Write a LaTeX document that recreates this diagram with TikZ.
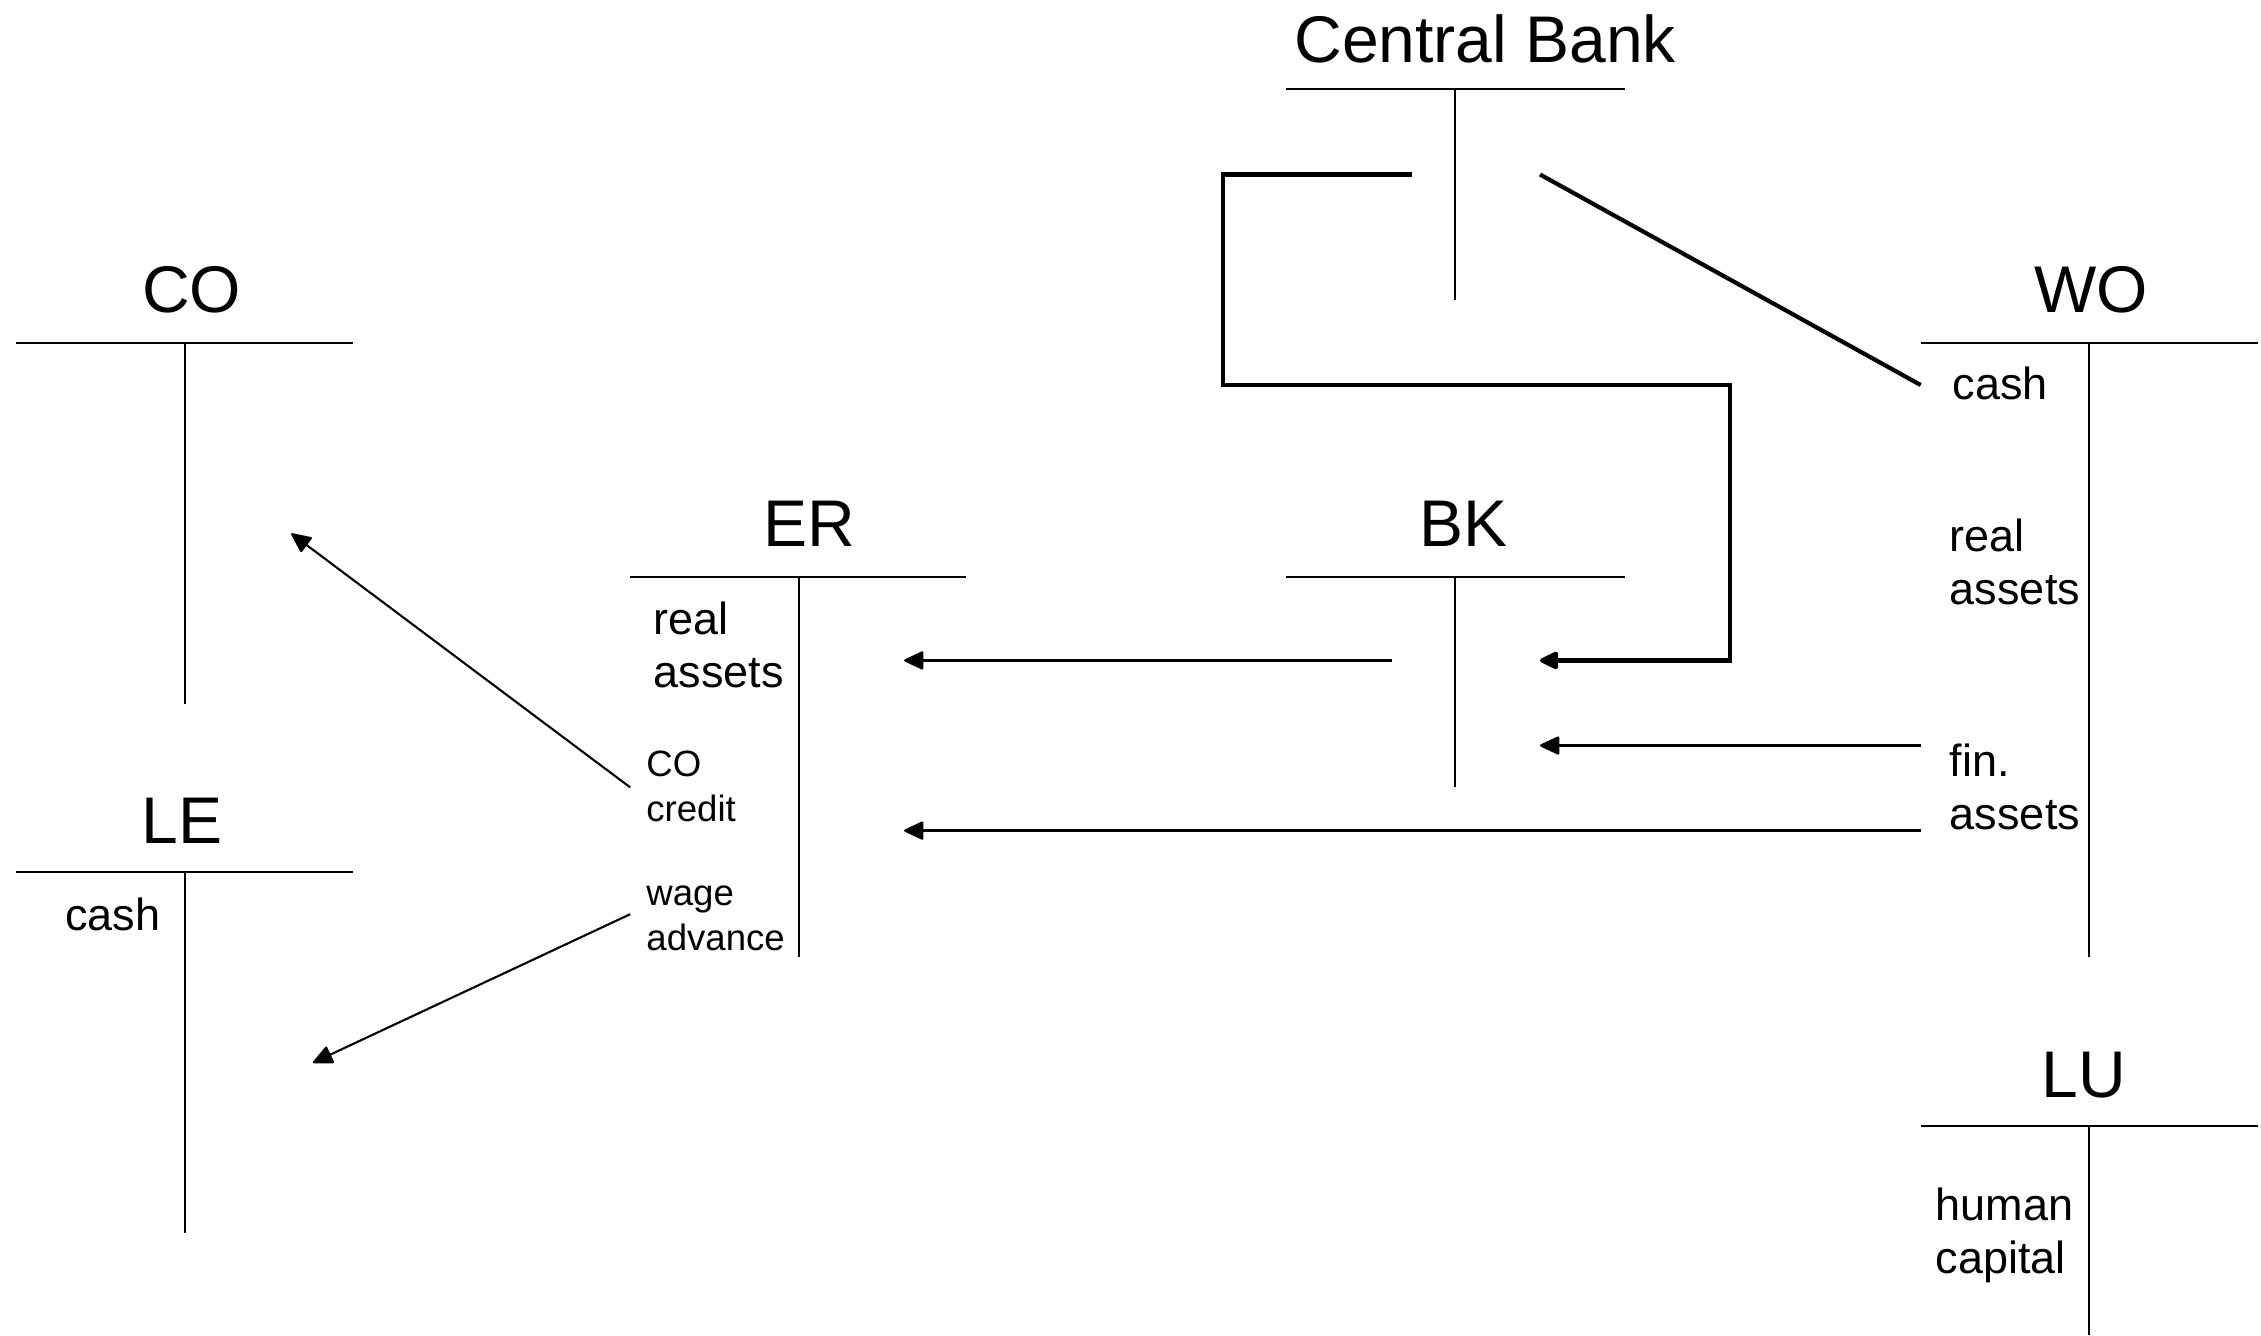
\documentclass[tikz,border=0pt]{standalone}
\usepackage{fontspec}
\setmainfont{Liberation Sans}
\usetikzlibrary{arrows.meta}
\begin{document}
\begin{tikzpicture}[x=0.721pt,y=-0.721pt,
  title/.style={font=\fontsize{33}{38}\selectfont, anchor=base, inner sep=0pt},
  % multi-line labels: the base anchor sits on the last line
  lbl/.style={font=\fontsize{22.5}{26.5}\selectfont, anchor=base west, align=left, inner sep=0pt},
  slbl/.style={font=\fontsize{18.3}{22.5}\selectfont, anchor=base west, align=left, inner sep=0pt},
  acct/.style={line width=0.95pt},
  flowhead/.style={-{Triangle[length=10.5pt,width=9.5pt,round]}},
  flow/.style={line width=1.2pt, flowhead},
  thinflow/.style={line width=1.05pt, flowhead},
  cbflow/.style={line width=2.1pt, line join=miter},
]
\useasboundingbox[fill=white] (0,0) rectangle (1568,926);

% ---- T-accounts ----
% Central Bank
\node[title] (cbT) at (1030,43) {Central Bank};
\draw[acct] (892,62) -- (1127,62) (1009,62) -- (1009,208);
% CO
\node[title] (coT) at (133,217) {CO};
\draw[acct] (11,238) -- (245,238) (128,238) -- (128,488);
% LE
\node[title] (leT) at (126,585) {LE};
\draw[acct] (11,605) -- (245,605) (128,605) -- (128,855);
\node[lbl] (leCash) at (45,645) {cash};
% ER
\node[title] (erT) at (561,379) {ER};
\draw[acct] (437,400) -- (670,400) (554,400) -- (554,664);
\node[lbl] (erReal) at (453,477) {real\\assets};
\node[slbl] (erCO) at (448,570) {CO\\credit};
\node[slbl] (erWage) at (448,659) {wage\\advance};
% BK
\node[title] (bkT) at (1015,379) {BK};
\draw[acct] (892,400) -- (1127,400) (1009,400) -- (1009,546);
% WO
\node[title] (woT) at (1450,217) {WO};
\draw[acct] (1332,238) -- (1566,238) (1449,238) -- (1449,664);
\node[lbl] (woCash) at (1354,277) {cash};
\node[lbl] (woReal) at (1352,419) {real\\assets};
\node[lbl] (woFin) at (1352,575) {fin.\\assets};
% LU
\node[title] (luT) at (1445,761) {LU};
\draw[acct] (1332,781) -- (1566,781) (1449,781) -- (1449,926);
\node[lbl] (luHum) at (1342,883) {human\\capital};

% ---- connector end points ----
\coordinate (cbL) at (979,121);
\coordinate (cbR) at (1068,121);
\coordinate (c1) at (848,121);
\coordinate (c2) at (848,267);
\coordinate (c3) at (1200,267);
\coordinate (c4) at (1200,458);
\coordinate (bkIn1) at (1068,458);
\coordinate (bkIn2) at (1068,517);
\coordinate (bkOut) at (965,458);
\coordinate (erIn1) at (627,458);
\coordinate (erIn2) at (627,576);
\coordinate (woCashIn) at (1332,267);
\coordinate (woFinOut) at (1332,517);
\coordinate (woAssOut) at (1332,576);
\coordinate (erCOout) at (437,546);
\coordinate (coIn) at (202,370);
\coordinate (erWout) at (437,634);
\coordinate (leIn) at (217,737);

% ---- flows ----
\draw[cbflow, flowhead] (cbL) -- (c1) -- (c2) -- (c3) -- (c4) -- (bkIn1);
\draw[cbflow] (cbR) -- (woCashIn);
\draw[flow] (bkOut) -- (erIn1);
\draw[flow] (woFinOut) -- (bkIn2);
\draw[flow] (woAssOut) -- (erIn2);
\draw[thinflow] (erCOout) -- (coIn);
\draw[thinflow] (erWout) -- (leIn);
\end{tikzpicture}
\end{document}
